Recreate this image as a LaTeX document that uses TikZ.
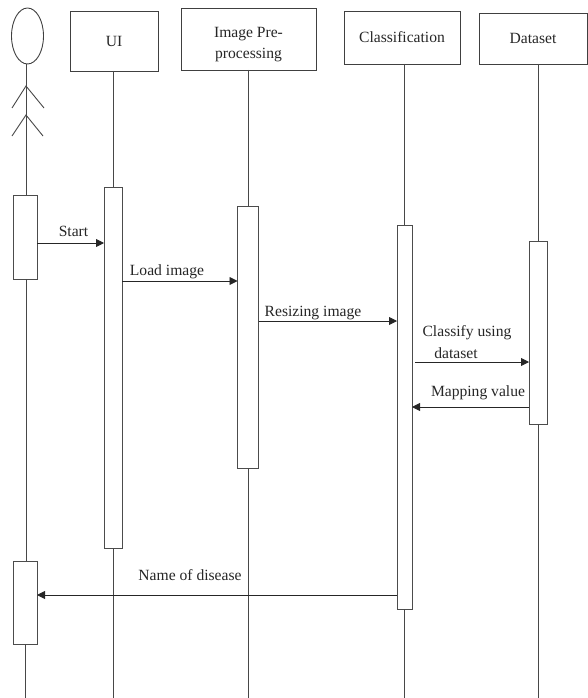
\documentclass[tikz,border=0pt]{standalone}
\usepackage{fontspec}
\setmainfont{Liberation Serif}
\usetikzlibrary{arrows.meta,shapes.geometric}
\tikzset{
  line/.style={black!72, line width=0.9pt},
  lifebox/.style={draw=black!75, line width=0.9pt, rectangle, inner sep=0pt, outer sep=0pt, text=black!85, align=center},
  actbox/.style={draw=black!70, line width=0.9pt, rectangle, inner sep=0pt, outer sep=0pt, fill=white},
  msg/.style={black!85, line width=0.9pt, -{Triangle[length=8pt,width=8pt]}},
  msgtext/.style={text=black!85, inner sep=0pt, align=center}
}
\begin{document}
\begin{tikzpicture}[x=1pt,y=-1pt,font=\fontsize{15.6}{21}\selectfont]
    \useasboundingbox (0,0) rectangle (587,698);
    % actor
    \node[draw=black!75, line width=0.9pt, ellipse, inner sep=0pt, outer sep=0pt, minimum width=32pt, minimum height=56pt] (head) at (27.5,36) {};
    \coordinate (armTop) at (26,86);
    \coordinate (armL) at (12,108);
    \coordinate (armR) at (44,108);
    \coordinate (legTop) at (26,115);
    \coordinate (legL) at (12,136);
    \coordinate (legR) at (43,136);
    \draw[line] (armL) -- (armTop) -- (armR);
    \draw[line] (legL) -- (legTop) -- (legR);
    % header boxes
    \node[lifebox, minimum width=88pt, minimum height=60pt] (uiBox) at (114,41) {UI};
    \node[lifebox, minimum width=135pt, minimum height=62pt] (preBox) at (248.5,39) {\rule{0pt}{21pt}Image Pre-\\processing};
    \node[lifebox, minimum width=116pt, minimum height=53pt] (clsBox) at (402,37.5) {Classification};
    \node[lifebox, minimum width=108pt, minimum height=51pt] (dataBox) at (533,38.5) {Dataset};
    % activation bars
    \node[actbox, minimum width=24pt, minimum height=84pt] (userActA) at (25,237) {};
    \node[actbox, minimum width=24pt, minimum height=83pt] (userActB) at (25,602.5) {};
    \node[actbox, minimum width=18pt, minimum height=361pt] (uiAct) at (113,367.5) {};
    \node[actbox, minimum width=21pt, minimum height=262pt] (preAct) at (248,337) {};
    \node[actbox, minimum width=15pt, minimum height=384pt] (clsAct) at (404.5,417) {};
    \node[actbox, minimum width=18pt, minimum height=183pt] (dataAct) at (538,332.5) {};
    % lifelines
    \coordinate (userEnd) at (25,698);
    \coordinate (uiEnd) at (113,698);
    \coordinate (preEnd) at (248,698);
    \coordinate (clsEnd) at (404.5,698);
    \coordinate (dataEnd) at (538,698);
    \draw[line] (armTop |- head.south) -- (userActA.north -| armTop);
    \draw[line] (userActA.south -| armTop) -- (userActB.north -| armTop);
    \draw[line] (userActB.south) -- (userEnd);
    \draw[line] (uiBox.south -| uiAct) -- (uiAct.north);
    \draw[line] (uiAct.south) -- (uiEnd);
    \draw[line] (preBox.south -| preAct) -- (preAct.north);
    \draw[line] (preAct.south) -- (preEnd);
    \draw[line] (clsBox.south -| clsAct) -- (clsAct.north);
    \draw[line] (clsAct.south) -- (clsEnd);
    \draw[line] (dataBox.south -| dataAct) -- (dataAct.north);
    \draw[line] (dataAct.south) -- (dataEnd);
    % messages
    \coordinate (yStart) at (0,243);
    \coordinate (yLoad) at (0,281);
    \coordinate (yResize) at (0,321);
    \coordinate (yClassify) at (0,362);
    \coordinate (yMap) at (0,407);
    \coordinate (yName) at (0,595);
    \coordinate (classifyFrom) at (415,362);
    \draw[msg] (userActA.east |- yStart) -- (uiAct.west |- yStart);
    \draw[msg] (uiAct.east |- yLoad) -- (preAct.west |- yLoad);
    \draw[msg] (preAct.east |- yResize) -- (clsAct.west |- yResize);
    \draw[msg] (classifyFrom) -- (dataAct.west |- yClassify);
    \draw[msg] (dataAct.west |- yMap) -- (clsAct.east |- yMap);
    \draw[msg] (clsAct.west |- yName) -- (userActB.east |- yName);
    \node[msgtext] (startText) at (73.5,231) {Start};
    \node[msgtext] (loadText) at (167,272) {Load image};
    \node[msgtext] (resizeText) at (313,313) {Resizing image};
    \node[msgtext] (classifyText) at (467,333) {Classify using};
    \node[msgtext] (datasetText) at (456,353) {dataset};
    \node[msgtext] (mapText) at (478,393) {Mapping value};
    \node[msgtext] (nameText) at (190,575) {Name of disease};
\end{tikzpicture}
\end{document}
